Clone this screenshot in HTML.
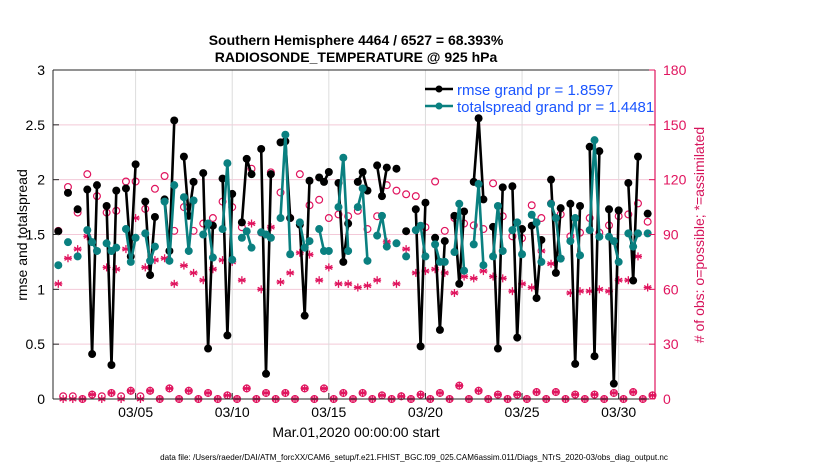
<!DOCTYPE html>
<html><head><meta charset="utf-8"><style>
body{margin:0;background:#fff;}
svg{display:block;font-family:"Liberation Sans",Arial,sans-serif;}
</style></head><body>
<svg id="chart" width="830" height="470" viewBox="0 0 830 470" xmlns="http://www.w3.org/2000/svg">
<rect width="830" height="470" fill="#fff"/>
<g id="grid"></g>
<g id="series"></g>
<g id="axes"></g>
<text x="356" y="45" text-anchor="middle" font-size="14" font-weight="bold">Southern Hemisphere 4464 / 6527 = 68.393%</text>
<text x="356" y="62" text-anchor="middle" font-size="14" font-weight="bold">RADIOSONDE_TEMPERATURE @ 925 hPa</text>
<text transform="translate(27,235) rotate(-90)" text-anchor="middle" font-size="14">rmse and totalspread</text>
<text transform="translate(704,235) rotate(-90)" text-anchor="middle" font-size="14" fill="#d6135a">#  of obs: o=possible; *=assimilated</text>
<text x="356" y="437" text-anchor="middle" font-size="14">Mar.01,2020 00:00:00 start</text>
<text x="414" y="460" text-anchor="middle" font-size="8.1">data file: /Users/raeder/DAI/ATM_forcXX/CAM6_setup/f.e21.FHIST_BGC.f09_025.CAM6assim.011/Diags_NTrS_2020-03/obs_diag_output.nc</text>
<g>
<line x1="425" y1="89" x2="453" y2="89" stroke="#000" stroke-width="2.5"/>
<circle cx="439" cy="89" r="3.5" fill="#000"/>
<text x="457" y="95" font-size="15" fill="#1a55ff">rmse grand pr = 1.8597</text>
<line x1="425" y1="106" x2="453" y2="106" stroke="#0a8080" stroke-width="2.5"/>
<circle cx="439" cy="106" r="3.5" fill="#0a8080"/>
<text x="457" y="112" font-size="15" fill="#1a55ff">totalspread grand pr = 1.4481</text>
</g>
</svg>
<script>
const rmse = [1.53,null,1.88,null,1.73,null,1.91,0.41,1.95,null,1.76,0.31,1.90,null,1.92,1.30,2.14,null,1.80,1.13,1.66,null,1.82,1.35,2.54,null,2.21,1.67,1.98,null,2.06,0.46,1.58,null,2.01,0.58,1.87,null,1.61,2.19,2.05,null,2.28,0.23,2.05,null,2.34,2.35,1.65,null,1.59,0.76,1.99,null,2.02,1.98,2.07,null,1.97,1.25,1.60,null,1.98,2.07,1.90,null,2.13,1.85,2.11,null,2.10,null,1.53,null,1.73,0.48,1.79,null,1.47,0.63,1.44,null,1.67,1.05,1.71,null,1.98,2.56,1.82,null,1.57,0.46,1.93,null,1.94,0.56,1.55,null,1.58,0.92,1.45,null,2.00,1.15,1.74,null,1.78,0.32,1.76,null,2.30,0.39,2.26,null,1.73,0.14,1.72,null,1.97,1.08,2.21,null,1.69,null];
const spread = [1.22,null,1.43,null,1.30,null,1.54,1.43,1.35,null,1.42,1.35,1.38,null,1.55,1.25,1.47,null,1.51,1.26,1.39,null,1.80,1.26,1.95,null,1.84,1.35,1.81,null,1.50,1.60,1.29,null,1.55,2.15,1.27,null,1.47,1.53,1.38,null,1.52,1.50,1.47,null,1.65,2.41,1.32,null,1.61,1.38,1.44,null,1.55,1.35,1.35,null,1.75,2.20,1.35,null,1.75,1.92,1.26,null,1.49,1.67,1.39,null,1.42,null,1.30,null,1.54,1.58,1.30,null,1.41,1.25,1.25,null,1.34,1.78,1.17,null,1.41,1.96,1.22,null,1.30,1.76,1.35,null,1.54,1.61,1.32,null,1.68,1.61,1.25,null,1.78,1.65,1.28,null,1.44,1.65,1.31,null,1.54,2.36,1.48,null,1.48,1.44,1.25,null,1.51,1.39,1.51,null,1.51,null];
const possible = [92,1.5,116,1.5,102,0,123,2.4,111,1.5,102,3.3,103,1.5,119,4.5,119,1.5,104,4.5,115,0,122,5.8,92,0,105,4.5,92,0,96,3.3,99,0,108,2,105,0,94,5.8,126,0,91,3.3,124,0,113,3.3,99,0,123,5.8,106,0,109,5.8,99,0,101,3.3,100,0,103,3.3,93,0,100,2,117,0,114,1.5,112,0,111,2.4,94,0,119,3.3,92,0,99,7.3,96,0,95,4.5,93,0,118,2.4,100,0,89,2.4,88,0,106,3.8,99,0,107,3.8,101,0,89,2.4,91,0,99,2.4,91,0,95,3.3,100,0,101,3.8,107,0,97,2];
const assimilated = [63,0,77,0,82,0,89,2.4,81,0,72,3.3,71,0,82,4.5,99,0,72,4.5,76,0,77,5.8,63,0,73,4.5,69,0,65,3.3,71,0,76,2,75,0,65,5.8,96,0,60,3.3,94,0,64,3.3,69,0,80,5.8,79,0,65,5.8,72,0,63,3.3,63,0,61,3.3,62,0,65,2,86,0,63,1.5,82,0,69,2.4,70,0,71,3.3,69,0,58,7.3,67,0,66,4.5,70,0,67,2.4,66,0,59,2.4,63,0,61,3.8,81,0,74,3.8,77,0,58,2.4,59,0,59,2.4,60,0,59,3.3,65,0,65,3.8,78,0,61,2];
const leftTicks = [0,0.5,1,1.5,2,2.5,3];
const leftTickLabels = ["0","0.5","1","1.5","2","2.5","3"];
const rightTicks = [0,30,60,90,120,150,180];
const dateTicks = [4,9,14,19,24,29];
const dateLabels = ["03/05","03/10","03/15","03/20","03/25","03/30"];

const NS="http://www.w3.org/2000/svg";
const L=53,R=655,T=70,B=399;
const xs = t => L + (t + 0.275) * (R - L) / 31.155;
const xk = k => xs(k / 4);
const yl = v => B - v * (B - T) / 3;
const yr = v => B - v * (B - T) / 180;
function mk(tag, attrs, parent){const e=document.createElementNS(NS,tag);for(const a in attrs)e.setAttribute(a,attrs[a]);parent.appendChild(e);return e;}
const grid=document.getElementById('grid'), ser=document.getElementById('series'), ax=document.getElementById('axes');

rightTicks.forEach(v=>{ if(v>0&&v<180){ const g=mk('line',{x1:L,x2:R,y1:yr(v),y2:yr(v),stroke:'#f3c9d8','stroke-width':1},grid);
 }});
dateTicks.forEach((t,i)=>{
 const g=mk('line',{x1:xs(t),x2:xs(t),y1:T,y2:B,stroke:'#dcdcdc','stroke-width':1},grid);
  
 const tk=mk('line',{x1:xs(t),x2:xs(t),y1:B,y2:B-6,stroke:'#262626','stroke-width':1},ax);
  
 const tl=mk('text',{x:xs(t),y:B+18,'text-anchor':'middle','font-size':14},ax); tl.textContent=dateLabels[i];
  
});

function drawLine(arr,color,name){
 let seg=[];
 const flush=()=>{ if(seg.length>1){const p=mk('polyline',{points:seg.join(' '),fill:'none',stroke:color,'stroke-width':2.6,'stroke-linejoin':'round'},ser);
   } seg=[]; };
 arr.forEach((v,k)=>{ if(v===null){flush();} else seg.push(xk(k).toFixed(1)+','+yl(v).toFixed(1)); });
 flush();
 arr.forEach((v,k)=>{ if(v!==null){ const c=mk('circle',{cx:xk(k),cy:yl(v),r:4.0,fill:color},ser);
   }});
}
function star(x,y,col){
 const g=mk('g',{stroke:col,'stroke-width':1.3},ser);
  
 for(let a=0;a<3;a++){const an=a*Math.PI/3+Math.PI/2, dx=4*Math.cos(an), dy=4*Math.sin(an);
  mk('line',{x1:x-dx,y1:y-dy,x2:x+dx,y2:y+dy},g);}
 mk('line',{x1:x-4,y1:y,x2:x+4,y2:y},g);
}
const MAG='#e0145e';
possible.forEach((v,k)=>{ const c=mk('circle',{cx:xk(k),cy:yr(v),r:3.4,fill:'none',stroke:MAG,'stroke-width':1.2},ser);
  });
assimilated.forEach((v,k)=>star(xk(k),yr(v),MAG));
drawLine(rmse,'#000','rmse');
drawLine(spread,'#0a8080','totalspread');

const box=mk('path',{d:`M${L},${T}H${R}M${L},${B}H${R}M${L},${T}V${B}`,stroke:'#262626','stroke-width':1,fill:'none'},ax);
 
const ra=mk('line',{x1:R,x2:R,y1:T,y2:B,stroke:MAG,'stroke-width':1.2},ax);
 
leftTicks.forEach((v,i)=>{
 const t=mk('line',{x1:L,x2:L+6,y1:yl(v),y2:yl(v),stroke:'#262626'},ax);
  
 const tl=mk('text',{x:L-8,y:yl(v)+5,'text-anchor':'end','font-size':14},ax); tl.textContent=leftTickLabels[i];
  
});
rightTicks.forEach(v=>{
 const t=mk('line',{x1:R-6,x2:R,y1:yr(v),y2:yr(v),stroke:MAG},ax);
  
 const tl=mk('text',{x:R+8,y:yr(v)+5,'font-size':14,fill:MAG},ax); tl.textContent=String(v);
  
});
</script>
</body></html>
